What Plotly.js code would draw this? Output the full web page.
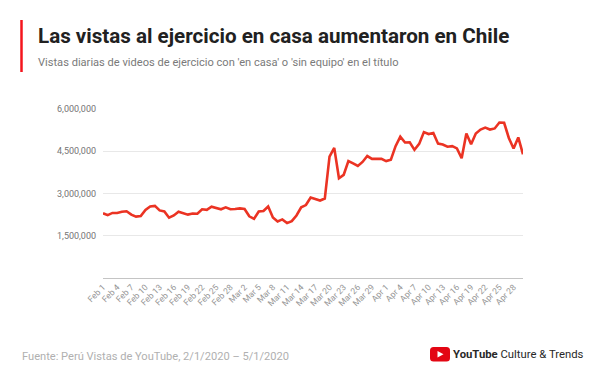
<!DOCTYPE html>
<html>
<head>
<meta charset="utf-8">
<script src="https://cdn.plot.ly/plotly-3.0.1.min.js"></script>
<style>
html,body{margin:0;padding:0;background:#fff;}
#chart{width:600px;height:376px;}
</style>
</head>
<body>
<div id="chart"></div>
<script>
// ---- data ----
const startDate = '2020-02-01';
const dayCount = 90;
const dates = [];
(function(){
  const d0 = new Date(startDate + 'T00:00:00Z');
  for (let i = 0; i < dayCount; i++) {
    const d = new Date(d0.getTime() + i * 86400000);
    dates.push(d.toISOString().slice(0, 10));
  }
})();

const views = [
  2300000, 2230000, 2310000, 2310000, 2350000, 2370000, 2250000, 2180000, 2200000, 2420000,
  2540000, 2560000, 2400000, 2360000, 2140000, 2220000, 2350000, 2300000, 2250000, 2290000,
  2280000, 2440000, 2420000, 2530000, 2490000, 2440000, 2510000, 2440000, 2450000, 2470000,
  2450000, 2190000, 2100000, 2360000, 2380000, 2540000, 2150000, 2010000, 2080000, 1950000,
  2020000, 2220000, 2510000, 2590000, 2860000, 2810000, 2750000, 2820000, 4310000, 4620000,
  3540000, 3660000, 4150000, 4070000, 3980000, 4120000, 4330000, 4230000, 4230000, 4230000,
  4150000, 4200000, 4680000, 5020000, 4810000, 4820000, 4550000, 4760000, 5180000, 5110000,
  5150000, 4770000, 4740000, 4660000, 4680000, 4600000, 4250000, 5130000, 4750000, 5130000,
  5270000, 5340000, 5270000, 5310000, 5520000, 5510000, 4970000, 4600000, 4990000, 4390000
];

const yTickVals = [1500000, 3000000, 4500000, 6000000];
const titleText = 'Las vistas al ejercicio en casa aumentaron en Chile';
const subtitleText = "Vistas diarias de videos de ejercicio con 'en casa' o 'sin equipo' en el título";
const sourceText = 'Fuente: Perú Vistas de YouTube, 2/1/2020 – 5/1/2020';
const brandText = '<b>YouTube</b> Culture &amp; Trends';

// ---- layout geometry ----
const W = 600, H = 376;
const M = {l: 103, r: 77, t: 109, b: 98};
const PW = W - M.l - M.r, PH = H - M.t - M.b;
const px = x => (x - M.l) / PW;
const py = y => (H - M.b - y) / PH;

function roundedRect(x0, y0, x1, y1, r) {
  const P = (x, y) => px(x) + ',' + py(y);
  return 'M' + P(x0 + r, y0) + ' L' + P(x1 - r, y0) + ' Q' + P(x1, y0) + ' ' + P(x1, y0 + r) +
         ' L' + P(x1, y1 - r) + ' Q' + P(x1, y1) + ' ' + P(x1 - r, y1) +
         ' L' + P(x0 + r, y1) + ' Q' + P(x0, y1) + ' ' + P(x0, y1 - r) +
         ' L' + P(x0, y0 + r) + ' Q' + P(x0, y0) + ' ' + P(x0 + r, y0) + ' Z';
}
function tri(a, b, c) {
  return 'M' + px(a[0]) + ',' + py(a[1]) + ' L' + px(b[0]) + ',' + py(b[1]) + ' L' + px(c[0]) + ',' + py(c[1]) + ' Z';
}

const trace = {
  x: dates,
  y: views,
  type: 'scatter',
  mode: 'lines',
  line: {color: '#eb3323', width: 2.6},
  hoverinfo: 'x+y'
};

const layout = {
  width: W, height: H,
  margin: M,
  paper_bgcolor: '#ffffff',
  plot_bgcolor: '#ffffff',
  showlegend: false,
  font: {family: 'Roboto, sans-serif', color: '#757575'},
  xaxis: {
    type: 'date',
    range: [dates[0], dates[dates.length - 1]],
    tick0: dates[0],
    dtick: 3 * 86400000,
    tickformat: '%b %-d',
    tickangle: -45,
    tickfont: {size: 8.5, color: '#959595', family: 'Roboto, sans-serif'},
    showgrid: false,
    zeroline: false,
    showline: true,
    linecolor: '#c4c4c4',
    linewidth: 1,
    ticks: '',
    ticklen: 0,
    fixedrange: true
  },
  yaxis: {
    range: [0, 6000000],
    tickvals: yTickVals,
    tickformat: ',d',
    tickfont: {size: 9, color: '#757575', family: 'Roboto, sans-serif'},
    showgrid: true,
    gridcolor: '#e8e8e8',
    gridwidth: 1,
    zeroline: false,
    showline: false,
    ticks: '',
    ticklabelstandoff: 6,
    fixedrange: true
  },
  shapes: [
    {type: 'line', xref: 'paper', yref: 'paper', x0: px(21.5), x1: px(21.5), y0: py(20), y1: py(72),
     line: {color: '#f4151d', width: 2.5}},
    {type: 'path', xref: 'paper', yref: 'paper', path: roundedRect(430, 347, 450, 361.5, 3.5),
     fillcolor: '#e30613', line: {width: 0}},
    {type: 'path', xref: 'paper', yref: 'paper', path: tri([437.5, 351], [437.5, 357.5], [443.5, 354.25]),
     fillcolor: '#ffffff', line: {width: 0}}
  ],
  annotations: [
    {xref: 'paper', yref: 'paper', x: px(36), y: py(36.5), xanchor: 'left', yanchor: 'middle', align: 'left',
     text: '<b>' + titleText + '</b>', showarrow: false,
     font: {family: 'Roboto, sans-serif', size: 20.6, color: '#212121'}},
    {xref: 'paper', yref: 'paper', x: px(36), y: py(62.5), xanchor: 'left', yanchor: 'middle', align: 'left',
     text: subtitleText, showarrow: false,
     font: {family: 'Roboto, sans-serif', size: 11.1, color: '#7a7a7a'}},
    {xref: 'paper', yref: 'paper', x: px(20), y: py(356), xanchor: 'left', yanchor: 'middle', align: 'left',
     text: sourceText, showarrow: false,
     font: {family: 'Roboto, sans-serif', size: 11.1, color: '#b0b0b0'}},
    {xref: 'paper', yref: 'paper', x: px(451), y: py(354.5), xanchor: 'left', yanchor: 'middle', align: 'left',
     text: brandText, showarrow: false,
     font: {family: 'Roboto, sans-serif', size: 11.3, color: '#282828'}}
  ]
};

Plotly.newPlot('chart', [trace], layout, {displayModeBar: false, staticPlot: true});
</script>
</body>
</html>
